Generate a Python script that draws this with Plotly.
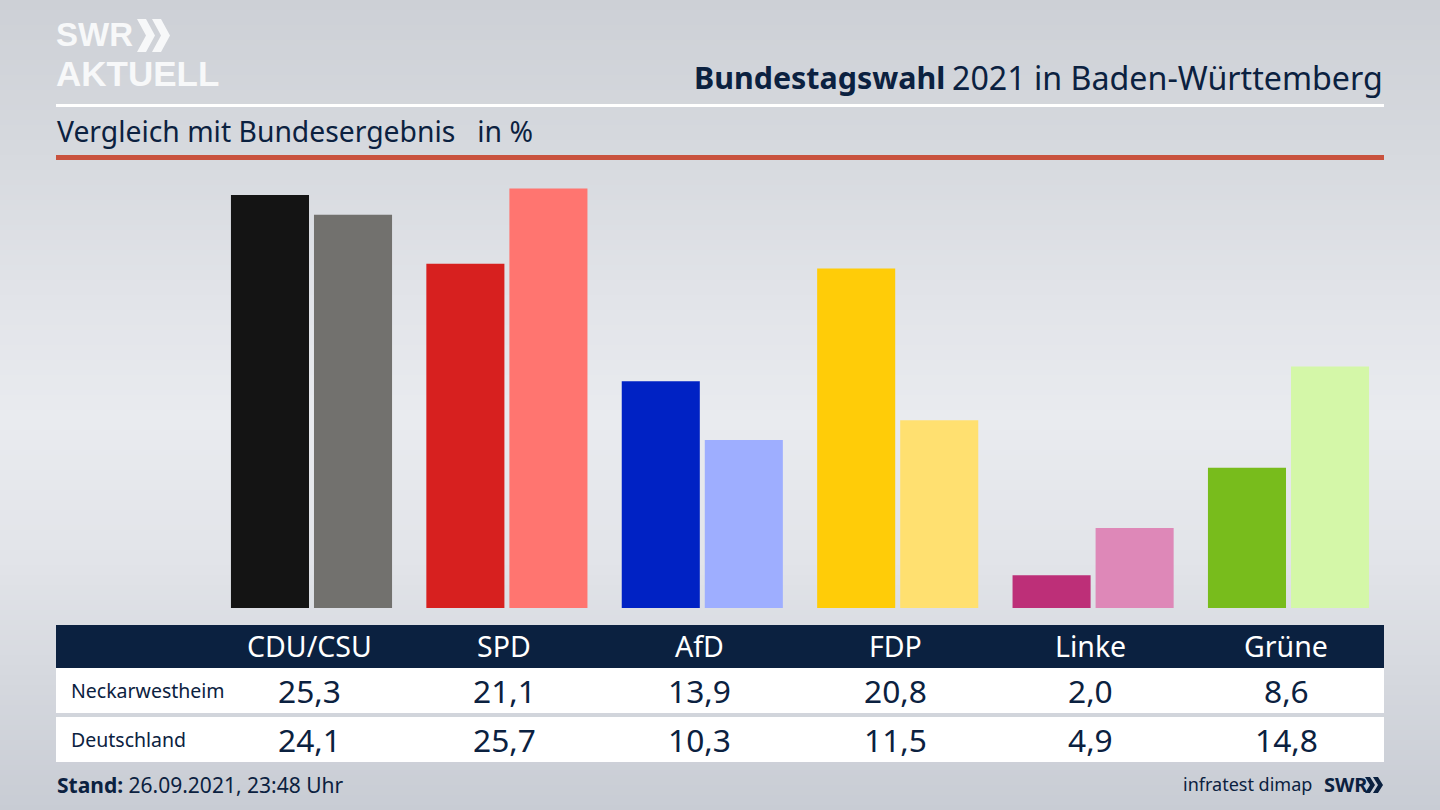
import plotly.graph_objects as go

parties = ["CDU/CSU", "SPD", "AfD", "FDP", "Linke", "Grüne"]
neckarwestheim = [25.3, 21.1, 13.9, 20.8, 2.0, 8.6]
deutschland = [24.1, 25.7, 10.3, 11.5, 4.9, 14.8]
colors_local = ["#141414", "#d7201f", "#0022c4", "#ffcc08", "#bd2f78", "#78bc1c"]
colors_national = ["#72716e", "#ff7570", "#9eaeff", "#ffe070", "#de88b8", "#d4f7a8"]
row_names = ["Neckarwestheim", "Deutschland"]
title_bold = "Bundestagswahl"
title_rest = "2021 in Baden-Württemberg"
subtitle = "Vergleich mit Bundesergebnis   in %"

W, H = 1440, 810
NAVY = "#0b2140"
FONT = "Noto Sans"
LOGO = "Liberation Sans"
bg_stops = [(0, (205, 208, 214)), (150, (214, 217, 222)), (300, (226, 228, 233)),
            (420, (233, 235, 239)), (560, (226, 228, 233)), (680, (213, 216, 222)),
            (810, (200, 204, 212))]


def py(v):
    return 1 - v / H


def px(v):
    return v / W


def rect(x0, y0, x1, y1, color, layer="below"):
    return dict(type="rect", xref="paper", yref="paper", x0=px(x0), x1=px(x1), y0=py(y0), y1=py(y1),
                fillcolor=color, line=dict(width=0), layer=layer)


def chevrons(x, top, bottom, w, t, gap):
    mid = (top + bottom) / 2
    out = []
    for i in range(2):
        x0 = x + i * gap
        pts = [(x0, top), (x0 + t, top), (x0 + w, mid), (x0 + t, bottom), (x0, bottom), (x0 + w - t, mid)]
        path = "M" + " L".join(f"{px(a):.5f},{py(b):.5f}" for a, b in pts) + " Z"
        out.append(path)
    return out


def text(x, y, s, size, color=NAVY, anchor="left", xref="paper", xshift=0, family=FONT):
    return dict(x=px(x) if xref == "paper" else x, y=py(y), xref=xref, yref="paper", text=s, showarrow=False,
                xanchor=anchor, yanchor="middle", xshift=xshift, borderpad=0,
                font=dict(family=family, size=size, color=color))


shapes = []
for (y0, c0), (y1, c1) in zip(bg_stops, bg_stops[1:]):
    n = max(1, (y1 - y0) // 5)
    for i in range(n):
        f = (i + 0.5) / n
        c = tuple(round(a + (b - a) * f) for a, b in zip(c0, c1))
        shapes.append(rect(0, y0 + (y1 - y0) * i / n, W, y0 + (y1 - y0) * (i + 1) / n + 0.6,
                           "rgb(%d,%d,%d)" % c))

shapes += [
    rect(56, 104, 1384, 107, "#ffffff"),
    rect(56, 155, 1384, 160, "#c9523e"),
    rect(56, 625, 1384, 668, NAVY),
    rect(56, 668, 1384, 713, "#ffffff"),
    rect(56, 717, 1384, 762, "#ffffff"),
]
for p in chevrons(137, 19, 52, 18, 9, 15):
    shapes.append(dict(type="path", xref="paper", yref="paper", path=p, fillcolor="#f7f8f9", line=dict(width=0)))
for p in chevrons(1365, 777, 793, 10, 5, 8):
    shapes.append(dict(type="path", xref="paper", yref="paper", path=p, fillcolor=NAVY, line=dict(width=0)))

fmt = lambda v: f"{v:.1f}".replace(".", ",")
ann = [
    text(55, 35, "<b>SWR</b>", 33, "#f7f8f9", family=LOGO),
    text(55, 73, "<b>AKTUELL</b>", 35, "#f7f8f9", family=LOGO),
    text(693, 77, f"<b>{title_bold}</b>", 30.4),
    text(1384, 77, title_rest, 32.2, anchor="right"),
    text(56, 131.5, subtitle, 28.3),
    text(69.5, 690, row_names[0], 19.5),
    text(69.5, 739, row_names[1], 19.5),
    text(56, 785, "<b>Stand:</b> 26.09.2021, 23:48 Uhr", 21),
    text(1313, 784, "infratest dimap", 18, anchor="right"),
    text(1323, 784, "<b>SWR</b>", 20),
]
for p, a, b in zip(parties, neckarwestheim, deutschland):
    ann.append(text(p, 646, p, 28.5, "#ffffff", "center", "x", -2.5))
    ann.append(text(p, 690, fmt(a), 31.7, NAVY, "center", "x", -2.5))
    ann.append(text(p, 739, fmt(b), 31.7, NAVY, "center", "x", -2.5))

fig = go.Figure()
fig.add_bar(x=parties, y=neckarwestheim, name=row_names[0], marker=dict(color=colors_local, line=dict(width=0)))
fig.add_bar(x=parties, y=deutschland, name=row_names[1], marker=dict(color=colors_national, line=dict(width=0)))

step = 195.4
center0 = 311.5
scale = 16.32
base = 608
fig.update_layout(
    width=W, height=H, autosize=False, margin=dict(l=0, r=0, t=0, b=0), showlegend=False,
    barmode="group", bargap=0.15, bargroupgap=0.06,
    paper_bgcolor="#e2e4e9", plot_bgcolor="rgba(0,0,0,0)",
    xaxis=dict(type="category", categoryorder="array", categoryarray=parties, visible=False,
               range=[-center0 / step, (W - center0) / step], fixedrange=True),
    yaxis=dict(visible=False, range=[-(H - base) / scale, base / scale], fixedrange=True),
    shapes=shapes, annotations=ann,
)
fig.write_html("out.html", config=dict(displayModeBar=False),
               post_script="document.documentElement.style.overflow='hidden';document.body.style.margin='0';")
